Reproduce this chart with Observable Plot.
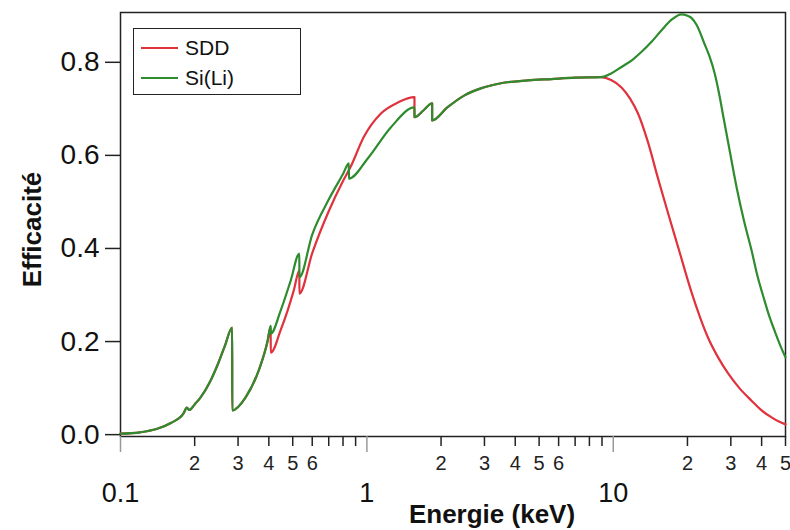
<!DOCTYPE html>
<html>
<head>
<meta charset="utf-8">
<script src="https://cdn.jsdelivr.net/npm/d3@7"></script>
<script src="https://cdn.jsdelivr.net/npm/@observablehq/plot@0.6"></script>
<style>
  body { margin: 0; background: #fff; font-family: "Liberation Sans", Arial, sans-serif; }
  #wrap { position: relative; width: 790px; height: 530px; }
  #legend { position: absolute; left: 133px; top: 28px; width: 166px; height: 65px;
            border: 1.5px solid #222; background: #fff; font-size: 21px; color: #111; }
  #legend .row { position: absolute; left: 7px; height: 24px; display: flex; align-items: center; }
  #legend .sw { width: 37px; height: 2px; margin-right: 7px; }
</style>
</head>
<body>
<div id="wrap"></div>
<script>
// Detector efficiency vs energy (keV)
const sddEnergy = [0.1,0.12,0.14,0.16,0.18,0.186,0.19,0.2,0.21,0.232,0.25,0.265,0.284,0.2841,0.322,0.364,0.395,0.407,0.4071,0.447,0.477,0.505,0.532,0.5321,0.6,0.7,0.8,0.86,0.97,1.14,1.34,1.56,1.5601,1.7,1.84,1.8401,2.12,2.49,2.9,3.5,4.5,5.6,7,8.9,9.8,10.8,11.7,12.6,13.8,15.2,16.7,18.4,20.8,22.5,24.3,26.7,29.3,32.5,36.4,40,43.9,47,50];
const sddEff    = [0.002,0.005,0.012,0.025,0.045,0.058,0.053,0.065,0.078,0.116,0.155,0.19,0.23,0.052,0.08,0.138,0.2,0.232,0.176,0.225,0.267,0.31,0.353,0.303,0.39,0.48,0.545,0.576,0.639,0.69,0.714,0.725,0.682,0.697,0.712,0.675,0.703,0.729,0.744,0.755,0.761,0.764,0.767,0.768,0.762,0.746,0.722,0.69,0.63,0.55,0.475,0.40,0.305,0.252,0.207,0.165,0.131,0.1,0.073,0.052,0.037,0.028,0.022];

const siliEnergy = [0.1,0.12,0.14,0.16,0.18,0.186,0.19,0.2,0.21,0.232,0.25,0.265,0.284,0.2841,0.322,0.364,0.395,0.407,0.4071,0.447,0.49,0.532,0.5321,0.6,0.7,0.8,0.845,0.8451,1.01,1.25,1.56,1.5601,1.7,1.84,1.8401,2.12,2.49,2.9,3.5,4.5,5.6,7,8.9,9.8,10.8,12.0,13.0,14.3,15.7,17.3,18.9,20.0,20.8,21.8,23.4,24.6,25.8,26.9,28.0,29.8,31.7,33.9,36.4,38.6,41.1,43.0,45.1,47.5,50];
const siliEff    = [0.002,0.005,0.012,0.025,0.045,0.058,0.053,0.065,0.078,0.116,0.155,0.19,0.23,0.052,0.08,0.138,0.2,0.234,0.217,0.267,0.33,0.389,0.338,0.43,0.505,0.56,0.583,0.55,0.594,0.66,0.703,0.682,0.697,0.712,0.675,0.703,0.729,0.744,0.755,0.761,0.764,0.767,0.768,0.776,0.79,0.806,0.822,0.844,0.869,0.892,0.903,0.9,0.895,0.88,0.841,0.812,0.776,0.732,0.682,0.605,0.53,0.46,0.396,0.338,0.288,0.254,0.224,0.193,0.166];

const seriesNames  = ["SDD", "Si(Li)"];
const seriesColors = ["#e0323c", "#2e8b2e"];

const xMajorTicks = [0.1, 1, 10];
const xMinorTicks = [0.2,0.3,0.4,0.5,0.6,0.7,0.8,0.9, 2,3,4,5,6,7,8,9, 20,30,40,50];
const xMinorLabeled = [0.2,0.3,0.4,0.5,0.6, 2,3,4,5,6, 20,30,40,50];
const yTicks = [0, 0.2, 0.4, 0.6, 0.8];

const sdd  = sddEnergy.map((e, i) => ({energy: e, eff: sddEff[i]}));
const sili = siliEnergy.map((e, i) => ({energy: e, eff: siliEff[i]}));

const leadDigit = d => String(Math.round(d / Math.pow(10, Math.floor(Math.log10(d) + 1e-9))));

const chart = Plot.plot({
  width: 790,
  height: 530,
  marginLeft: 120,
  marginRight: 5,
  marginTop: 12,
  marginBottom: 94,
  style: {fontFamily: "'Liberation Sans', Arial, sans-serif", background: "#fff", color: "#111"},
  x: {type: "log", domain: [0.1, 50], axis: null},
  y: {domain: [-0.004, 0.907], axis: null},
  marks: [
    Plot.frame({stroke: "#222", strokeWidth: 1.5}),
    Plot.axisX(xMinorTicks, {tickSize: 10, text: null, label: null, stroke: "#222", strokeWidth: 1.5}),
    Plot.text(xMinorLabeled, {x: d => d, text: leadDigit, frameAnchor: "bottom", lineAnchor: "middle", dy: 27, fontSize: 20, fill: "#222"}),
    Plot.axisX(xMajorTicks, {tickSize: 16, tickPadding: 30, fontSize: 27, label: null, tickFormat: d => String(d), stroke: "#999", strokeWidth: 1.5}),
    Plot.axisY(yTicks, {tickSize: 15, tickPadding: 6, fontSize: 28, label: null, tickFormat: d3.format(".1f"), stroke: "#222", strokeWidth: 1.5}),
    Plot.line(sdd,  {x: "energy", y: "eff", stroke: seriesColors[0], strokeWidth: 2.2, curve: "monotone-x"}),
    Plot.line(sili, {x: "energy", y: "eff", stroke: seriesColors[1], strokeWidth: 2.2, curve: "monotone-x"}),
    Plot.text(["Energie (keV)"], {frameAnchor: "bottom", textAnchor: "middle", lineAnchor: "middle", dx: 39, dy: 78, fontSize: 26, fontWeight: "bold", fill: "#111"}),
    Plot.text(["Efficacité"], {frameAnchor: "left", textAnchor: "middle", lineAnchor: "middle", rotate: -90, dx: -88, dy: 5, fontSize: 26, fontWeight: "bold", fill: "#111"})
  ]
});

const wrap = document.getElementById("wrap");
wrap.appendChild(chart);

const legend = document.createElement("div");
legend.id = "legend";
seriesNames.forEach((name, i) => {
  const row = document.createElement("div");
  row.className = "row";
  row.style.top = (7 + i * 30) + "px";
  const sw = document.createElement("span");
  sw.className = "sw";
  sw.style.background = seriesColors[i];
  const label = document.createElement("span");
  label.textContent = name;
  row.appendChild(sw);
  row.appendChild(label);
  legend.appendChild(row);
});
wrap.appendChild(legend);
</script>
</body>
</html>
